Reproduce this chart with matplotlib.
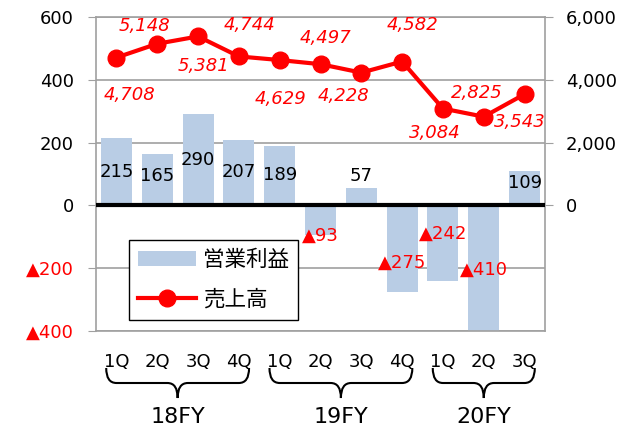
import matplotlib.pyplot as plt
from matplotlib.path import Path
from matplotlib.patches import PathPatch
import matplotlib.transforms as mtrans

plt.rcParams['font.family'] = ['DejaVu Sans', 'Noto Sans CJK JP']

quarters = ['1Q', '2Q', '3Q', '4Q', '1Q', '2Q', '3Q', '4Q', '1Q', '2Q', '3Q']
groups = [('18FY', 0, 3), ('19FY', 4, 7), ('20FY', 8, 10)]
profit = [215, 165, 290, 207, 189, -93, 57, -275, -242, -410, 109]
sales = [4708, 5148, 5381, 4744, 4629, 4497, 4228, 4582, 3084, 2825, 3543]
left_ticks = [600, 400, 200, 0, -200, -400]
right_ticks = [0, 2000, 4000, 6000]

# label offsets in pixels
sales_off = [(13, -37), (-13, 18), (5, -30), (11, 31), (1, -39), (5, 26),
             (-18, -23), (10, 37), (-8, -24), (-7, 24), (-5, -28)]
profit_off = [-34, -22, -46, -32, -29, -1, 12, 29, 48, 64, -12]

BAR = '#B9CDE5'
RED = '#FF0000'
GRID = '#A0A0A0'

fig = plt.figure(figsize=(6.26, 4.30), dpi=100)
ax = fig.add_axes([96/626, 1-331/430, 449/626, 314/430])
x = list(range(len(quarters)))

ax.bar(x, profit, width=0.76, color=BAR, label='営業利益', zorder=2)
ax.set_xlim(-0.5, len(x)-0.5)
ax.set_ylim(-400, 600)
ax.set_yticks(left_ticks)
ax.set_yticklabels(['▲%d' % -v if v < 0 else str(v) for v in left_ticks], fontsize=13)
for t, v in zip(ax.get_yticklabels(), left_ticks):
    if v < 0:
        t.set_color(RED)
ax.tick_params(axis='y', length=6, color=GRID, pad=10)
for v in left_ticks:
    if v != 0:
        ax.axhline(v, color=GRID, lw=1.2, zorder=1)
ax.axhline(0, color='black', lw=3, zorder=3)
for s in ax.spines.values():
    s.set_color(GRID)
    s.set_linewidth(1.2)
ax.set_xticks(x)
ax.set_xticklabels(quarters, fontsize=13)
ax.tick_params(axis='x', length=0, pad=16)

for i, v in enumerate(profit):
    txt = '▲%d' % -v if v < 0 else str(v)
    ax.annotate(txt, (i, v), xytext=(0, profit_off[i]), textcoords='offset pixels',
                ha='center', va='center', fontsize=13, annotation_clip=False,
                color=RED if v < 0 else 'black', zorder=5)

ax2 = ax.twinx()
ax2.set_ylim(-4000, 6000)
ax2.set_yticks(right_ticks)
ax2.set_yticklabels(['{:,}'.format(v) for v in right_ticks], fontsize=13)
ax2.tick_params(axis='y', length=6, color=GRID, pad=9)
for s in ax2.spines.values():
    s.set_visible(False)
ax2.plot(x, sales, color=RED, lw=3, marker='o', ms=12, label='売上高', zorder=4)
for i, v in enumerate(sales):
    ax2.annotate('{:,}'.format(v), (i, v), xytext=sales_off[i], textcoords='offset pixels',
                 ha='center', va='center', fontsize=13, style='italic', color=RED)

h1, l1 = ax.get_legend_handles_labels()
h2, l2 = ax2.get_legend_handles_labels()
leg = ax2.legend(h1 + h2, l1 + l2, loc='upper left', bbox_to_anchor=(33/449, 91/314),
                 frameon=True, fancybox=False, edgecolor='black',
                 framealpha=1, handlelength=2.7, handletextpad=0.35,
                 borderpad=0.4, labelspacing=0.85, borderaxespad=0,
                 prop={'family': ['Noto Sans CJK JP'], 'size': 15.5})
leg.get_frame().set_linewidth(1.0)

# braces under the quarter labels
tr = mtrans.blended_transform_factory(ax.transData, fig.transFigure)
y_top = 1 - 368/430
y_tip = 1 - 398/430
y_mid = (y_top + y_tip) / 2
for name, a, b in groups:
    x0, x1 = a - 0.25, b + 0.25
    xm = (x0 + x1) / 2
    r = 0.25
    verts = [(x0, y_top), (x0, y_mid), (x0 + r, y_mid),
             (xm - r, y_mid), (xm, y_mid), (xm, y_tip),
             (xm, y_mid), (xm + r, y_mid),
             (x1 - r, y_mid), (x1, y_mid), (x1, y_top)]
    codes = [Path.MOVETO, Path.CURVE3, Path.CURVE3,
             Path.LINETO, Path.CURVE3, Path.CURVE3,
             Path.CURVE3, Path.CURVE3,
             Path.LINETO, Path.CURVE3, Path.CURVE3]
    fig.add_artist(PathPatch(Path(verts, codes), transform=tr, fill=False,
                             lw=1.5, color='black'))
    fig.text(xm, 1 - 417/430, name, transform=tr, ha='center', va='center', fontsize=16)

fig.savefig('out.png', dpi=100)
